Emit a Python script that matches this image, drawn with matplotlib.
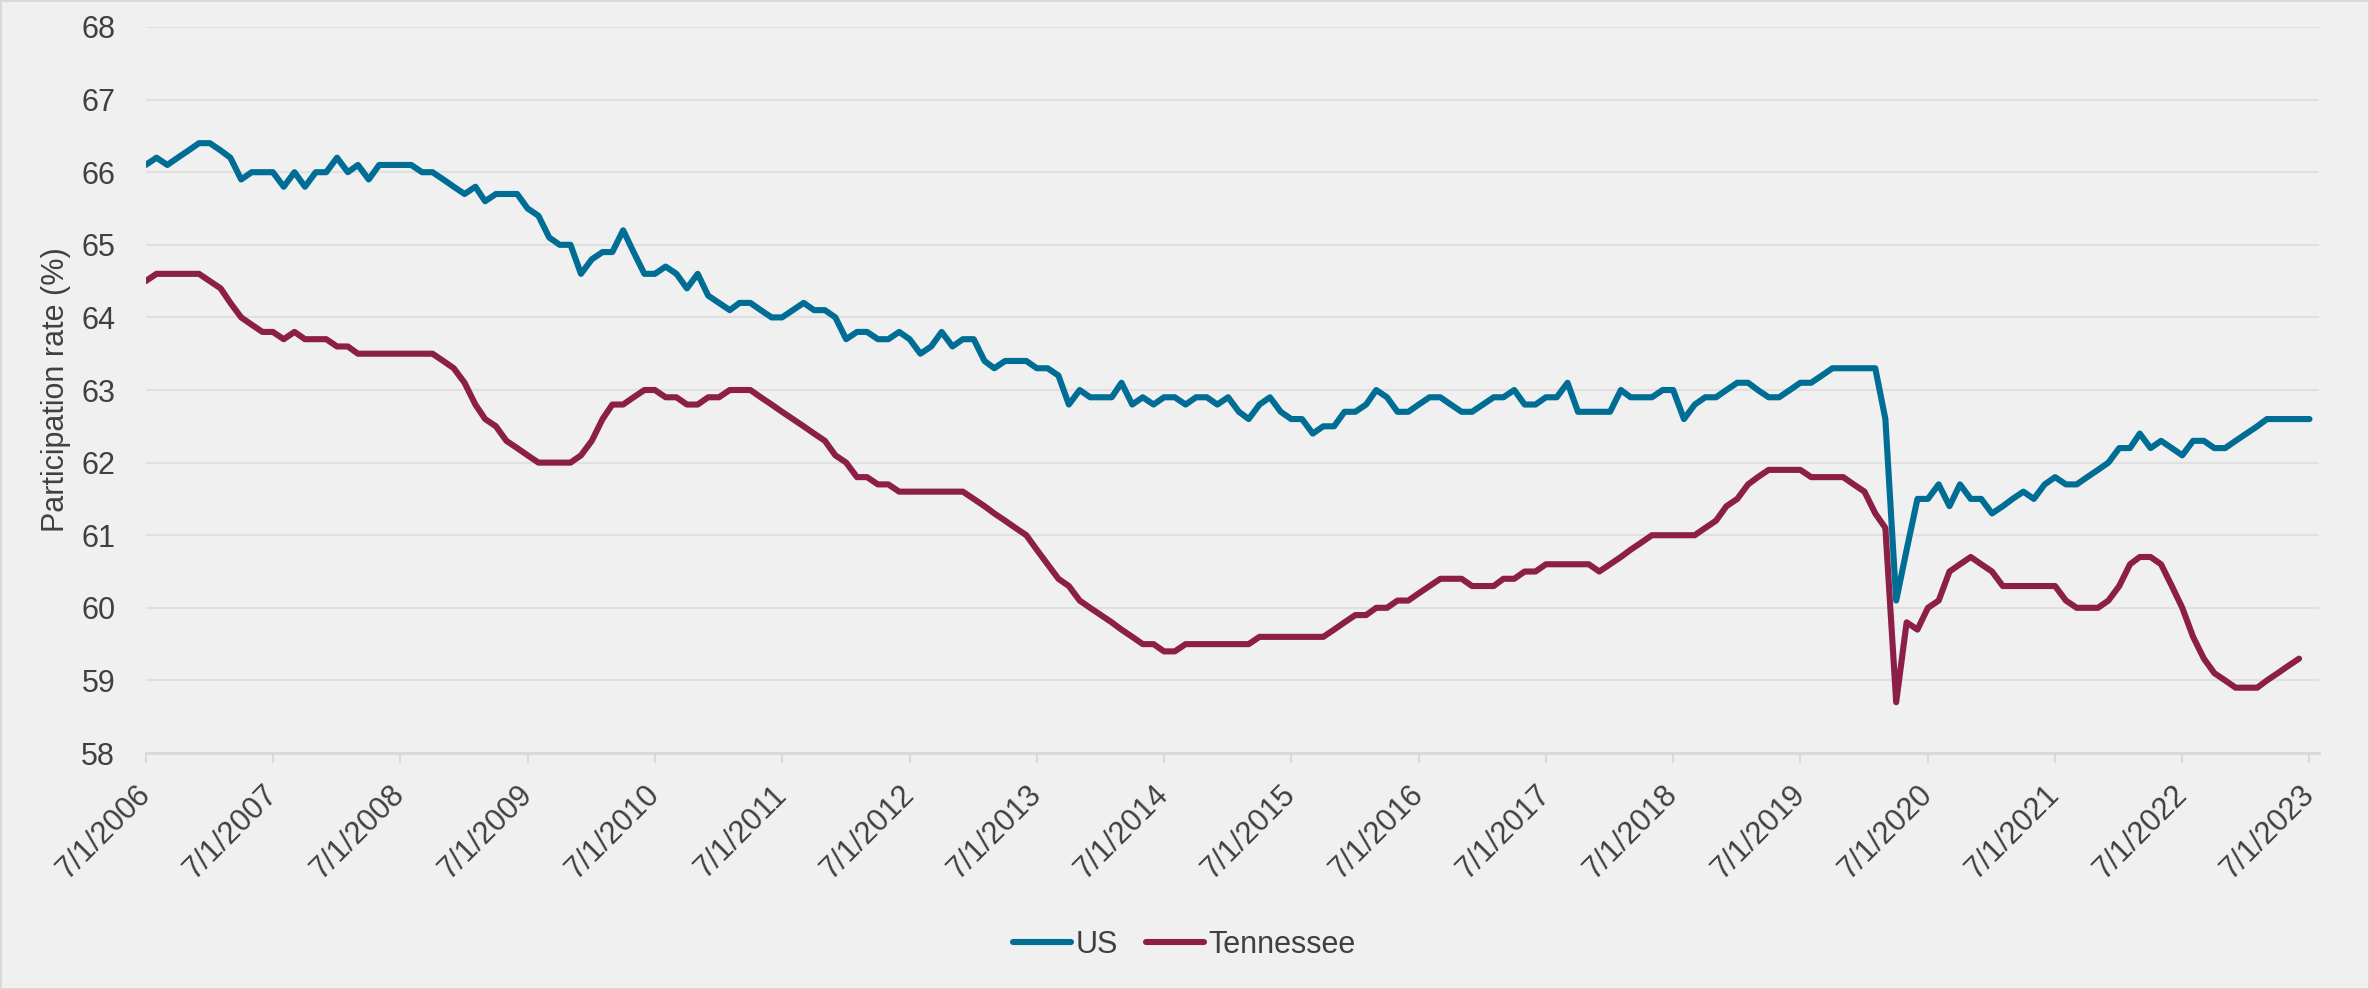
import matplotlib
matplotlib.use("Agg")
import matplotlib.pyplot as plt
from matplotlib.transforms import ScaledTranslation
import pandas as pd

# monthly participation rate (%), starting 7/1/2006
start_month = "2006-07-01"

us_rate = [
    66.1, 66.2, 66.1, 66.2, 66.3, 66.4, 66.4, 66.3, 66.2, 65.9,
    66.0, 66.0, 66.0, 65.8, 66.0, 65.8, 66.0, 66.0, 66.2, 66.0,
    66.1, 65.9, 66.1, 66.1, 66.1, 66.1, 66.0, 66.0, 65.9, 65.8,
    65.7, 65.8, 65.6, 65.7, 65.7, 65.7, 65.5, 65.4, 65.1, 65.0,
    65.0, 64.6, 64.8, 64.9, 64.9, 65.2, 64.9, 64.6, 64.6, 64.7,
    64.6, 64.4, 64.6, 64.3, 64.2, 64.1, 64.2, 64.2, 64.1, 64.0,
    64.0, 64.1, 64.2, 64.1, 64.1, 64.0, 63.7, 63.8, 63.8, 63.7,
    63.7, 63.8, 63.7, 63.5, 63.6, 63.8, 63.6, 63.7, 63.7, 63.4,
    63.3, 63.4, 63.4, 63.4, 63.3, 63.3, 63.2, 62.8, 63.0, 62.9,
    62.9, 62.9, 63.1, 62.8, 62.9, 62.8, 62.9, 62.9, 62.8, 62.9,
    62.9, 62.8, 62.9, 62.7, 62.6, 62.8, 62.9, 62.7, 62.6, 62.6,
    62.4, 62.5, 62.5, 62.7, 62.7, 62.8, 63.0, 62.9, 62.7, 62.7,
    62.8, 62.9, 62.9, 62.8, 62.7, 62.7, 62.8, 62.9, 62.9, 63.0,
    62.8, 62.8, 62.9, 62.9, 63.1, 62.7, 62.7, 62.7, 62.7, 63.0,
    62.9, 62.9, 62.9, 63.0, 63.0, 62.6, 62.8, 62.9, 62.9, 63.0,
    63.1, 63.1, 63.0, 62.9, 62.9, 63.0, 63.1, 63.1, 63.2, 63.3,
    63.3, 63.3, 63.3, 63.3, 62.6, 60.1, 60.8, 61.5, 61.5, 61.7,
    61.4, 61.7, 61.5, 61.5, 61.3, 61.4, 61.5, 61.6, 61.5, 61.7,
    61.8, 61.7, 61.7, 61.8, 61.9, 62.0, 62.2, 62.2, 62.4, 62.2,
    62.3, 62.2, 62.1, 62.3, 62.3, 62.2, 62.2, 62.3, 62.4, 62.5,
    62.6, 62.6, 62.6, 62.6, 62.6,
]

tn_rate = [
    64.5, 64.6, 64.6, 64.6, 64.6, 64.6, 64.5, 64.4, 64.2, 64.0,
    63.9, 63.8, 63.8, 63.7, 63.8, 63.7, 63.7, 63.7, 63.6, 63.6,
    63.5, 63.5, 63.5, 63.5, 63.5, 63.5, 63.5, 63.5, 63.4, 63.3,
    63.1, 62.8, 62.6, 62.5, 62.3, 62.2, 62.1, 62.0, 62.0, 62.0,
    62.0, 62.1, 62.3, 62.6, 62.8, 62.8, 62.9, 63.0, 63.0, 62.9,
    62.9, 62.8, 62.8, 62.9, 62.9, 63.0, 63.0, 63.0, 62.9, 62.8,
    62.7, 62.6, 62.5, 62.4, 62.3, 62.1, 62.0, 61.8, 61.8, 61.7,
    61.7, 61.6, 61.6, 61.6, 61.6, 61.6, 61.6, 61.6, 61.5, 61.4,
    61.3, 61.2, 61.1, 61.0, 60.8, 60.6, 60.4, 60.3, 60.1, 60.0,
    59.9, 59.8, 59.7, 59.6, 59.5, 59.5, 59.4, 59.4, 59.5, 59.5,
    59.5, 59.5, 59.5, 59.5, 59.5, 59.6, 59.6, 59.6, 59.6, 59.6,
    59.6, 59.6, 59.7, 59.8, 59.9, 59.9, 60.0, 60.0, 60.1, 60.1,
    60.2, 60.3, 60.4, 60.4, 60.4, 60.3, 60.3, 60.3, 60.4, 60.4,
    60.5, 60.5, 60.6, 60.6, 60.6, 60.6, 60.6, 60.5, 60.6, 60.7,
    60.8, 60.9, 61.0, 61.0, 61.0, 61.0, 61.0, 61.1, 61.2, 61.4,
    61.5, 61.7, 61.8, 61.9, 61.9, 61.9, 61.9, 61.8, 61.8, 61.8,
    61.8, 61.7, 61.6, 61.3, 61.1, 58.7, 59.8, 59.7, 60.0, 60.1,
    60.5, 60.6, 60.7, 60.6, 60.5, 60.3, 60.3, 60.3, 60.3, 60.3,
    60.3, 60.1, 60.0, 60.0, 60.0, 60.1, 60.3, 60.6, 60.7, 60.7,
    60.6, 60.3, 60.0, 59.6, 59.3, 59.1, 59.0, 58.9, 58.9, 58.9,
    59.0, 59.1, 59.2, 59.3,
]

tick_labels = [
    "7/1/2006", "7/1/2007", "7/1/2008", "7/1/2009", "7/1/2010", "7/1/2011",
    "7/1/2012", "7/1/2013", "7/1/2014", "7/1/2015", "7/1/2016", "7/1/2017",
    "7/1/2018", "7/1/2019", "7/1/2020", "7/1/2021", "7/1/2022", "7/1/2023",
]
y_ticks = [58, 59, 60, 61, 62, 63, 64, 65, 66, 67, 68]

BG = "#f0f0f0"
TEXT = "#404040"
US_COLOR = "#006d94"
TN_COLOR = "#8c1f47"
GRID = "#e0e0e0"

plt.rcParams["font.family"] = ["Liberation Sans", "DejaVu Sans"]
plt.rcParams["font.size"] = 22

us_dates = pd.date_range(start_month, periods=len(us_rate), freq="MS")
tn_dates = pd.date_range(start_month, periods=len(tn_rate), freq="MS")
tick_dates = pd.to_datetime(tick_labels, format="%m/%d/%Y")

fig = plt.figure(figsize=(23.69, 9.89), dpi=100)
fig.patch.set_facecolor(BG)
fig.patch.set_edgecolor("#d9d9d9")
fig.patch.set_linewidth(2)

ax = fig.add_axes([0.0615, 0.2386, 0.9175, 0.7341])
ax.set_facecolor(BG)

line_kw = dict(linewidth=4.4, solid_capstyle="round", solid_joinstyle="round")
ax.plot(us_dates, us_rate, color=US_COLOR, label="US", **line_kw)
ax.plot(tn_dates, tn_rate, color=TN_COLOR, label="Tennessee", **line_kw)

ax.set_ylim(58, 68)
ax.set_yticks(y_ticks)
ax.set_xlim(pd.Timestamp("2006-07-01"), pd.Timestamp("2023-07-29"))
ax.set_xticks(tick_dates)
ax.set_xticklabels(tick_labels, rotation=45, ha="right", va="center",
                   rotation_mode="anchor")

# nudge the rotated date labels slightly right, like the original
shift = ScaledTranslation(4 / 100, 0, fig.dpi_scale_trans)
for lbl in ax.get_xticklabels():
    lbl.set_transform(lbl.get_transform() + shift)

ax.grid(axis="y", color=GRID, linewidth=1.5)
ax.set_axisbelow(True)
for side in ["top", "right", "left"]:
    ax.spines[side].set_visible(False)
ax.spines["bottom"].set_color("#d9d9d9")
ax.spines["bottom"].set_linewidth(2)

ax.tick_params(axis="x", length=7, width=1.5, color="#d9d9d9", pad=20,
               labelcolor=TEXT, labelsize=22)
ax.tick_params(axis="y", length=0, pad=22, labelcolor=TEXT, labelsize=22)

ax.set_ylabel("Participation rate (%)", color=TEXT, fontsize=22)
ax.yaxis.set_label_coords(-0.0344, 0.5)

fig.legend(loc="center", bbox_to_anchor=(0.5, 0.0445), ncol=2, frameon=False,
           handlelength=1.9, handletextpad=0.15, columnspacing=0.9,
           fontsize=22, labelcolor=TEXT)

fig.savefig("out.png", dpi=100, facecolor=BG, edgecolor=fig.get_edgecolor())
